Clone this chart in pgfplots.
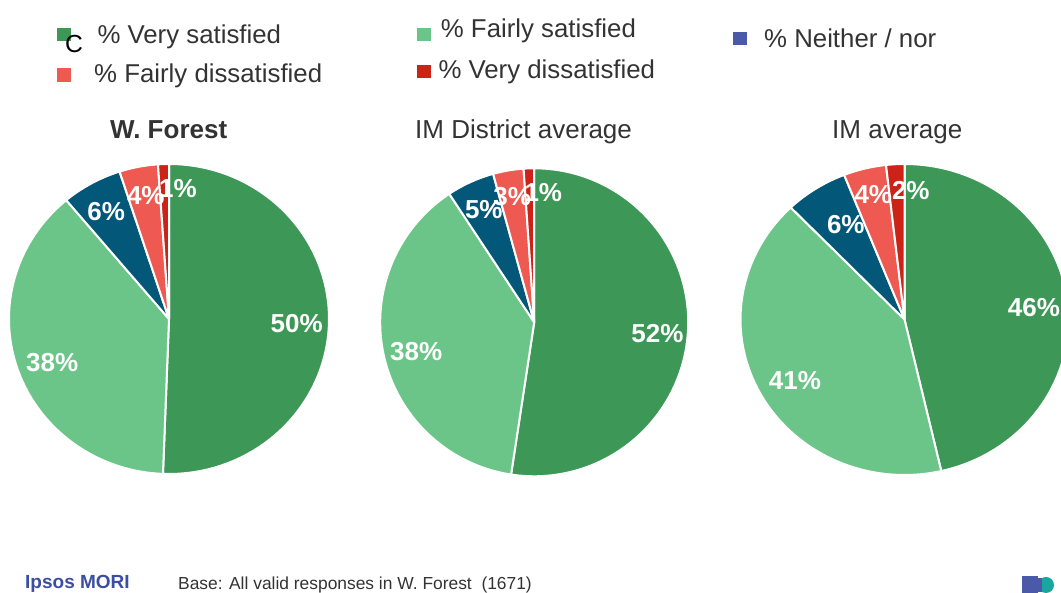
\documentclass[border=0pt]{standalone}
\usepackage{pgfplots}
\pgfplotsset{compat=1.18}
\usepackage{pgfplotstable}
\usepackage{fontspec}
\setmainfont{Liberation Sans}
\definecolor{cVS}{HTML}{3D9857}
\definecolor{cFS}{HTML}{6CC588}
\definecolor{cNN}{HTML}{03587A}
\definecolor{cFD}{HTML}{EE5A52}
\definecolor{cVD}{HTML}{CC2218}
\definecolor{legBlue}{HTML}{4A5AA8}
\definecolor{txt}{HTML}{333333}
\definecolor{ipsos}{HTML}{3B4EA3}
\definecolor{logoTeal}{HTML}{1AA5A0}

% W. Forest
\pgfplotstableread{
cat value col
VS 50.6 cVS
FS 38.3 cFS
NN 6.1 cNN
FD 3.9 cFD
VD 1.1 cVD
}\pieA
% IM District average
\pgfplotstableread{
cat value col
VS 52.4 cVS
FS 38.3 cFS
NN 5.0 cNN
FD 3.2 cFD
VD 1.1 cVD
}\pieB
% IM average
\pgfplotstableread{
cat value col
VS 46.4 cVS
FS 41.4 cFS
NN 6.2 cNN
FD 4.2 cFD
VD 1.8 cVD
}\pieC

\newcommand\drawpie[1]{%
  \def\cum{0}%
  \pgfplotsforeachungrouped \rowi in {0,1,2,3,4}{%
    \pgfplotstablegetelem{\rowi}{value}\of{#1}\let\val\pgfplotsretval
    \pgfplotstablegetelem{\rowi}{col}\of{#1}\let\col\pgfplotsretval
    \pgfmathsetmacro\lo{90-3.6*(\cum+\val)}%
    \pgfmathsetmacro\hi{90-3.6*\cum}%
    \edef\doslice{\noexpand\addplot[fill=\col, draw=white, line width=2pt, line join=round, domain=\lo:\hi, samples=120] ({cos(x)},{sin(x)}) -- (axis cs:0,0) -- cycle;}%
    \doslice
    \pgfmathsetmacro\cum{\cum+\val}%
  }%
}

\pgfplotsset{pie/.style={hide axis, scale only axis, xmin=-1, xmax=1, ymin=-1, ymax=1, anchor=center, clip=false}}

\newcommand\fs[1]{\fontsize{#1}{#1}\selectfont}

\begin{document}
\begin{tikzpicture}
\path[use as bounding box] (0,0) rectangle (1061pt,593pt);
\clip (0,0) rectangle (1061pt,593pt);

\begin{axis}[pie, at={(169pt,274pt)}, width=320pt, height=310pt]
\drawpie{\pieA}
\end{axis}
\begin{axis}[pie, at={(534.2pt,270.7pt)}, width=308pt, height=308pt]
\drawpie{\pieB}
\end{axis}
\begin{axis}[pie, at={(904.5pt,273.5pt)}, width=328pt, height=311pt]
\drawpie{\pieC}
\end{axis}

\begin{scope}[x=1pt, y=-1pt, yshift=593pt]
% legend
\fill[cVS] (57,28) rectangle (71,41.5);
\fill[cFD] (57.3,68.3) rectangle (71,81.7);
\fill[cFS] (416.7,28.3) rectangle (430.7,40.7);
\fill[cVD] (416.7,65) rectangle (431,78.3);
\fill[legBlue] (733.3,31.7) rectangle (746.7,45);
\node[anchor=base west, inner sep=0, text=txt] at (97.3,44) {\fs{25.8}\% Very satisfied};
\node[anchor=base west, inner sep=0, text=txt] at (94,82.2) {\fs{25.8}\% Fairly dissatisfied};
\node[anchor=base west, inner sep=0, text=txt] at (440.7,37.3) {\fs{25.8}\% Fairly satisfied};
\node[anchor=base west, inner sep=0, text=txt] at (438.3,79) {\fs{25.8}\% Very dissatisfied};
\node[anchor=base west, inner sep=0, text=txt] at (764,47.3) {\fs{25.8}\% Neither / nor};
\node[anchor=base west, inner sep=0, text=black] at (64.8,53) {\fs{24.7}C};
% titles
\node[anchor=base west, inner sep=0, text=txt] at (110,138.5) {\fs{26}\bfseries W. Forest};
\node[anchor=base west, inner sep=0, text=txt] at (415,138.5) {\fs{26}IM District average};
\node[anchor=base west, inner sep=0, text=txt] at (832,138.5) {\fs{26}IM average};
% slice labels
\tikzset{lab/.style={inner sep=0, text=white, font=\fs{26}\bfseries}}
\node[lab] at (296.7,323.8) {50\%};
\node[lab] at (52.2,362.3) {38\%};
\node[lab] at (106.2,212) {6\%};
\node[lab] at (145.8,195.3) {4\%};
\node[lab] at (178,189) {1\%};
\node[lab] at (657.5,333.8) {52\%};
\node[lab] at (416.2,351.3) {38\%};
\node[lab] at (483.8,210) {5\%};
\node[lab] at (512.2,196.7) {3\%};
\node[lab] at (543.3,192.5) {1\%};
\node[lab] at (1034,307.5) {46\%};
\node[lab] at (795,380.8) {41\%};
\node[lab] at (845.8,224.2) {6\%};
\node[lab] at (873.3,194.2) {4\%};
\node[lab] at (910.8,190.8) {2\%};
% footer
\node[anchor=base west, inner sep=0, text=ipsos] at (25,588.5) {\fs{19}\bfseries Ipsos MORI};
\node[anchor=base west, inner sep=0, text=txt] at (178,589.5) {\fs{17.4}Base: All valid responses in W. Forest\ \ (1671)};
\fill[legBlue] (1022,576) rectangle (1038,593);
\fill[logoTeal] (1046,585) circle (8);
\fill[legBlue] (1038,578) rectangle (1042,592);
\end{scope}
\end{tikzpicture}
\end{document}
